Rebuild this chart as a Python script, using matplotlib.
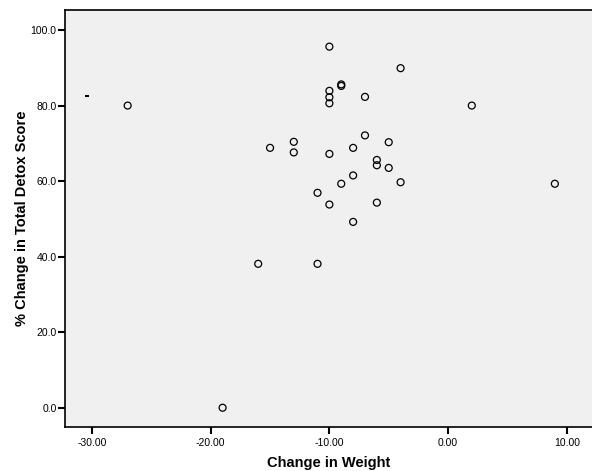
import matplotlib
matplotlib.use("Agg")
from matplotlib import pyplot as plt

plt.rcParams['font.family'] = ['Liberation Sans', 'DejaVu Sans']

# data
weight_change = [-27, -15, -13, -13, -10, -4, -9, -9, -10, -10, -10, -7, 2,
                 -7, -10, -8, -5, -6, -6, -5, -8, -9, -4, 9, -11, -10, -6,
                 -8, -16, -11, -19]
detox_change = [80.0, 68.8, 70.4, 67.6, 95.6, 89.9, 85.6, 85.2, 83.9, 82.2,
                80.6, 82.3, 80.0, 72.1, 67.2, 68.8, 70.3, 65.6, 64.2, 63.5,
                61.5, 59.3, 59.7, 59.3, 56.9, 53.8, 54.3, 49.2, 38.1, 38.1, 0.0]
# odd little dash mark at the far left
dash_x = [-30.45]
dash_y = [82.5]

x_ticks = [-30, -20, -10, 0, 10]
y_ticks = [0, 20, 40, 60, 80, 100]

fig = plt.figure(figsize=(5.92, 4.71), dpi=100)
ax = fig.add_axes([65/592, 1 - 427/471, 1 - 65/592, (427 - 10)/471])
ax.set_facecolor('#f0f0f0')

ax.scatter(weight_change, detox_change, s=25, facecolors='none',
           edgecolors='black', linewidths=0.9, zorder=3)
ax.plot(dash_x, dash_y, marker='_', markersize=2.5, markeredgewidth=1.5,
        color='black', linestyle='none', zorder=3)

ax.set_xlim(-32.28, 12.13)
ax.set_ylim(-5.1, 105.3)
ax.set_xticks(x_ticks)
ax.set_xticklabels(['%.2f' % v for v in x_ticks])
ax.set_yticks(y_ticks)
ax.set_yticklabels(['%.1f' % v for v in y_ticks])
ax.tick_params(axis='both', labelsize=7.5, length=5, width=1.5, direction='out')
ax.tick_params(axis='y', pad=1)
ax.tick_params(axis='x', pad=3)

for s in ['left', 'bottom', 'top']:
    ax.spines[s].set_linewidth(1.2)
ax.spines['right'].set_visible(False)

ax.set_xlabel('Change in Weight', fontsize=10.5, fontweight='bold', labelpad=6)
ax.set_ylabel('% Change in Total Detox Score', fontsize=10.5, fontweight='bold',
              labelpad=1)

fig.savefig('out.png', dpi=100)
